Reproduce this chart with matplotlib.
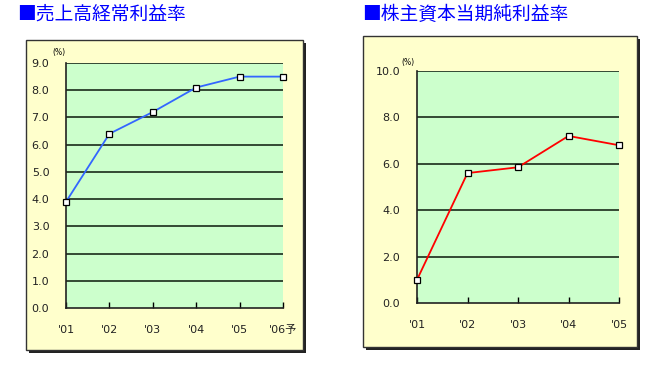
import numpy as np
import matplotlib.pyplot as plt
from matplotlib.patches import Rectangle

plt.rcParams['font.family'] = ['DejaVu Sans', 'Noto Sans CJK JP']

# data
years_l = ["'01", "'02", "'03", "'04", "'05", "'06予"]
ordinary_margin = [3.9, 6.4, 7.2, 8.1, 8.5, 8.5]
years_r = ["'01", "'02", "'03", "'04", "'05"]
roe = [1.0, 5.6, 5.85, 7.2, 6.8]

W, H = 650, 376
fig = plt.figure(figsize=(W / 100, H / 100), dpi=100)
fig.patch.set_facecolor('white')


def px_rect(x0, y0, x1, y1):
    # pixel box (top-left origin) -> figure fraction rect
    return [x0 / W, 1 - y1 / H, (x1 - x0) / W, (y1 - y0) / H]


def panel(box, area, title_xy, title, pct_xy, labels, values, ymax, ystep, color):
    # shadow + yellow frame
    x0, y0, x1, y1 = box
    l, b, w, h = px_rect(x0 + 3, y0 + 3, x1 + 3, y1 + 3)
    fig.patches.append(Rectangle((l, b), w, h, transform=fig.transFigure,
                                 facecolor='#222222', edgecolor='none', zorder=-2))
    l, b, w, h = px_rect(x0, y0, x1, y1)
    fig.patches.append(Rectangle((l, b), w, h, transform=fig.transFigure,
                                 facecolor='#ffffcc', edgecolor='#333333', lw=1, zorder=-1))

    fig.text(title_xy[0] / W, 1 - title_xy[1] / H, title, color='#0000ff',
             fontsize=13.5, family=['Noto Sans CJK JP', 'DejaVu Sans'], va='center')

    ax = fig.add_axes(px_rect(*area))
    ax.set_facecolor('#ccffcc')
    x = np.arange(len(values))
    ax.set_xlim(0, len(values) - 1)
    ax.set_ylim(0, ymax)
    yt = np.arange(0, ymax + 0.01, ystep)
    for v in yt[1:]:
        ax.axhline(v, color='#1a2a1a', lw=1.2, zorder=1)
    ax.plot(x, values, color=color, lw=1.3, marker='s', ms=4.5,
            mfc='white', mec='black', mew=0.9, zorder=3, clip_on=False)
    ax.set_yticks(yt)
    ax.set_yticklabels([f'{v:.1f}' for v in yt], fontsize=8, color='#222222')
    ax.set_xticks(x)
    ax.set_xticklabels(labels, fontsize=8, color='#222222')
    ax.tick_params(axis='y', length=0, pad=12)
    ax.tick_params(axis='x', direction='in', length=4, pad=12, width=1)
    for s in ['top', 'right']:
        ax.spines[s].set_visible(False)
    for s in ['left', 'bottom']:
        ax.spines[s].set_color('#222222')
        ax.spines[s].set_linewidth(1.2)
    fig.text(pct_xy[0] / W, 1 - pct_xy[1] / H, '(%)', fontsize=5.5, ha='center', va='center')
    return ax


panel((26, 40, 303, 350), (66, 63, 283, 308), (17, 14), '■売上高経常利益率',
      (59, 53), years_l, ordinary_margin, 9, 1, '#3366ff')
panel((363, 36, 637, 347), (417, 71, 619, 303), (362, 14), '■株主資本当期純利益率',
      (408, 62), years_r, roe, 10, 2, '#ff0000')

fig.savefig('out.png', dpi=100)
